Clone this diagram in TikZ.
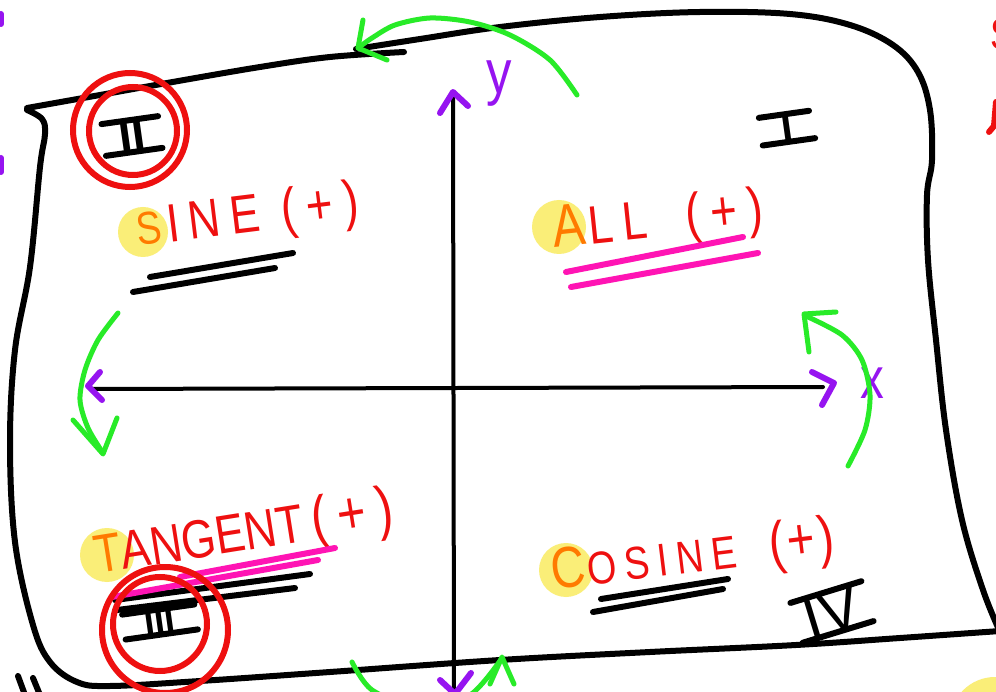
\documentclass[tikz,border=0pt]{standalone}
\usepackage{fontspec}
\setmainfont{Liberation Sans}
\newfontfamily\hand[FakeStretch=0.82, LetterSpace=18]{Liberation Sans}
\newfontfamily\handtight[FakeStretch=0.82]{Liberation Sans}
\newfontfamily\numfont{Liberation Sans}
\usetikzlibrary{calc}

\definecolor{inkred}{RGB}{238,16,16}
\definecolor{inkorange}{RGB}{255,122,0}
\definecolor{hilite}{RGB}{250,238,120}
\definecolor{inkpink}{RGB}{255,20,180}
\definecolor{inkgreen}{RGB}{40,235,40}
\definecolor{inkpurple}{RGB}{150,20,240}

\newcommand{\fs}[1]{\fontsize{#1}{#1}\selectfont}
\newcommand{\initial}[2]{\textcolor{inkorange}{\fs{#1}#2}}

\tikzset{
  pen/.style={line width=6pt, line cap=round, line join=round},
  frameline/.style={pen, black},
  axisline/.style={line width=4pt, black, line cap=round},
  purplehead/.style={pen, inkpurple},
  greenarc/.style={line width=5pt, inkgreen, line cap=round, line join=round},
  underl/.style={pen},
  ring/.style={line width=6pt, inkred},
  hl/.style={fill=hilite},
  word/.style={inner sep=0pt, anchor=base west, text=inkred,
               font=\hand\fs{#1}},
  numeral/.style={inner sep=0pt, text=black, font=\numfont\bfseries\fs{#1}},
  thinnumeral/.style={inner sep=0pt, text=black, font=\numfont\fs{#1}},
  axislabel/.style={inner sep=0pt, text=inkpurple, font=\handtight\fs{#1}},
}

\begin{document}
\begin{tikzpicture}[x=1pt,y=-1pt]
\useasboundingbox (0,0) rectangle (996,692);
\clip (0,0) rectangle (996,692);
\fill[white] (0,0) rectangle (996,692);

% ---- yellow highlight dots behind the initial letters ----
\fill[hl] (143,232) circle (25);
\fill[hl] (559,227) circle (27);
\fill[hl] (107,555) circle (27);
\fill[hl] (566,570) circle (27);
\fill[hl] (995,722) circle (45);

% ---- the sheet outline ----
\draw[frameline] plot[smooth, tension=0.6] coordinates
  {(27,108) (100,95) (167,83) (260,67) (330,57) (404,52)};
\draw[frameline] plot[smooth, tension=0.6] coordinates
  {(356,49) (420,39) (500,27) (600,17) (700,12) (790,14) (850,25)
   (893,45) (918,72) (930,110) (932,160) (927,195) (928,260)
   (936,340) (946,430) (962,520) (983,590) (1000,632)};
\draw[frameline] plot[smooth, tension=0.6] coordinates
  {(27,110) (42,119) (45,134) (40,167) (30,267) (15,350) (10,442)
   (15,542) (33,625) (50,662) (77,682) (110,686) (200,681) (330,672)
   (500,660) (650,652) (796,645) (900,638) (1000,631)};

% ---- axes ----
\draw[axisline] (454,700) -- (453,95);
\draw[axisline] (92,389) -- (823,387);
\draw[purplehead] (440,113) -- (453,92) -- (468,106);
\draw[purplehead] (100,372) -- (88,386) -- (102,400);
\draw[purplehead] (812,372) -- (834,383) -- (822,405);
\draw[purplehead] (440,680) -- (455,694) -- (471,673);
\node[axislabel=62] (ylab) at (499,84) {y};
\node[axislabel=58] (xlab) at (872,383) {x};

% ---- green rotation arrows ----
\draw[greenarc] plot[smooth] coordinates
  {(577,95) (550,60) (510,35) (470,22) (430,18) (395,25) (372,38) (358,48)};
\draw[greenarc] (363,20) -- (358,48) -- (387,60);
\draw[greenarc] plot[smooth] coordinates
  {(118,313) (98,340) (85,370) (80,400) (88,428) (103,453)};
\draw[greenarc] (73,420) -- (103,454) -- (117,418);
\draw[greenarc] plot[smooth] coordinates
  {(848,466) (865,430) (870,395) (862,360) (842,335) (806,316)};
\draw[greenarc] (836,312) -- (804,314) -- (809,352);
\draw[greenarc] plot[smooth] coordinates
  {(352,662) (372,690) (420,708) (470,695) (502,658)};
\draw[greenarc] (490,684) -- (502,657) -- (514,684);

% ---- quadrant words ----
\node[word=54, rotate=7] (sineTxt) at (138,246)
  {\initial{46}{S}\hspace{6pt}INE {\fs{56}(+)}};
\node[word=54, rotate=6] (allTxt) at (554,248)
  {\initial{60}{A}\hspace{4pt}LL\hspace{16pt} {\fs{56}(+)}};
\node[word=54, rotate=9] (tanTxt) at (97,574)
  {\initial{54}{T}{\handtight ANGENT}\hspace{8pt}{\fs{60}(+)}};
\node[word=46, rotate=7] (cosTxt) at (553,590)
  {\initial{58}{C}\hspace{2pt}OSINE\hspace{14pt} {\fs{58}(\hspace{3pt}+\hspace{3pt})}};

% ---- underlines ----
\draw[underl, black] (150,277) -- (293,253);
\draw[underl, black] (133,292) -- (275,268);
\draw[underl, inkpink] (566,272) -- (743,237);
\draw[underl, inkpink] (571,287) -- (758,253);
\draw[underl, black] (601,599) -- (728,579);
\draw[underl, black] (593,612) -- (723,589);
\draw[underl, black] (115,600) -- (310,574);
\draw[underl, black] (117,610) -- (295,588);
\draw[underl, inkpink] (180,577) -- (335,548);
\draw[underl, inkpink] (112,597) -- (318,560);

% ---- quadrant numerals ----
\node[numeral=46, rotate=8] (qII) at (132,136) {II};
\draw[underl] ($(qII.north west)!-0.6!(qII.north east)$) -- ($(qII.north west)!1.6!(qII.north east)$);
\draw[underl] ($(qII.south west)!-0.6!(qII.south east)$) -- ($(qII.south west)!1.6!(qII.south east)$);

\node[numeral=40, rotate=8] (qI) at (787,128) {I};
\draw[underl] ($(qI.north west)!-1.8!(qI.north east)$) -- ($(qI.north west)!2.6!(qI.north east)$);
\draw[underl] ($(qI.south west)!-1.8!(qI.south east)$) -- ($(qI.south west)!2.8!(qI.south east)$);

\node[numeral=36, rotate=8] (qIII) at (160,622) {III};
\draw[underl] ($(qIII.north west)!-0.7!(qIII.north east)$) -- ($(qIII.north west)!1.7!(qIII.north east)$);
\draw[underl] ($(qIII.south west)!-0.7!(qIII.south east)$) -- ($(qIII.south west)!1.7!(qIII.south east)$);

\node[thinnumeral=60, rotate=17] (qIV) at (832,612) {IV};
\draw[underl] ($(qIV.north west)!-0.15!(qIV.north east)$) -- ($(qIV.north west)!1.15!(qIV.north east)$);
\draw[underl] ($(qIV.south west)!-0.15!(qIV.south east)$) -- ($(qIV.south west)!1.15!(qIV.south east)$);

% ---- red rings ----
\draw[ring] (130,130) circle (57);
\draw[ring] (133,131) circle (44);
\draw[ring] (165,630) circle (63);
\draw[ring] (160,624) circle (47);

% ---- fragments at the edges ----
\node[word=44, anchor=center] (edgeS) at (1003,34) {S};
\draw[pen, inkred] (996,102) -- (994,126) -- (989,132);
\draw[pen, inkpurple] (1,14) -- (1,24);
\draw[pen, inkpurple] (1,158) -- (1,172);
\draw[pen, black] (18,676) -- (25,695);
\draw[pen, black] (33,678) -- (40,695);
\end{tikzpicture}
\end{document}
